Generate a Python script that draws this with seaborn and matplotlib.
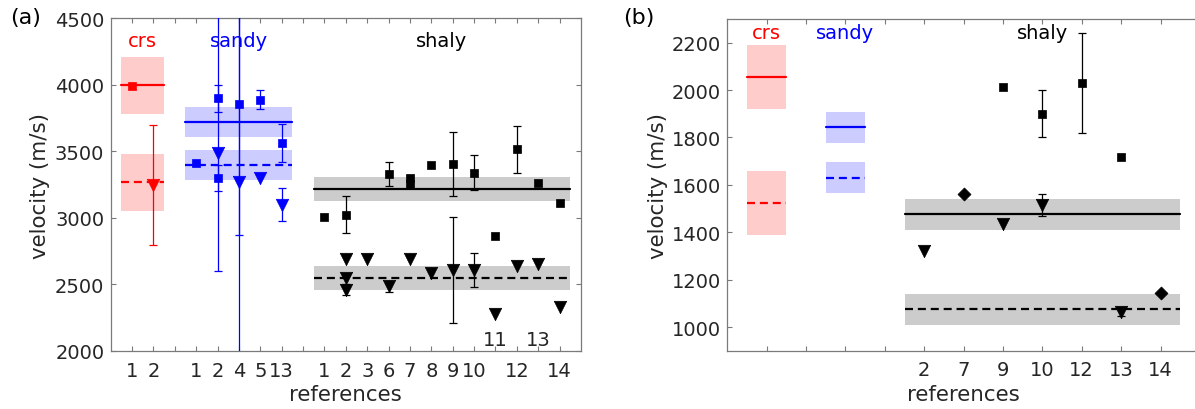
import numpy as np
import matplotlib
matplotlib.use("Agg")
import matplotlib.pyplot as plt
import seaborn as sns

# ------------------------------------------------------------------
# Panel (a) data
# ------------------------------------------------------------------
a_group_names = ["crs", "sandy", "shaly"]
a_refs_crs = ["1", "2"]
a_refs_sandy = ["1", "2", "4", "5", "13"]
a_refs_shaly = ["1", "2", "3", "6", "7", "8", "9", "10", "11", "12", "13", "14"]
a_raised_refs = ["11", "13"]          # shaly tick labels printed inside the axes

a_mean_solid = [4000, 3720, 3215]
a_band_solid_lo = [3785, 3610, 3125]
a_band_solid_hi = [4212, 3832, 3305]
a_mean_dashed = [3270, 3400, 2550]
a_band_dashed_lo = [3055, 3285, 2458]
a_band_dashed_hi = [3480, 3514, 2638]

# crs
a_crs_sq_ref = ["1"]
a_crs_sq_val = [3990]
a_crs_sq_elo = [0]
a_crs_sq_ehi = [0]
a_crs_tri_ref = ["2"]
a_crs_tri_val = [3250]
a_crs_tri_elo = [450]
a_crs_tri_ehi = [450]

# sandy
a_sandy_sq_ref = ["1", "2", "2", "4", "5", "13"]
a_sandy_sq_val = [3410, 3900, 3300, 3860, 3890, 3565]
a_sandy_sq_elo = [0, 100, 100, 990, 70, 145]
a_sandy_sq_ehi = [0, 100, 100, 990, 70, 145]
a_sandy_tri_ref = ["2", "4", "5", "13"]
a_sandy_tri_val = [3490, 3270, 3300, 3100]
a_sandy_tri_elo = [890, 1500, 0, 125]
a_sandy_tri_ehi = [1200, 1500, 0, 125]

# shaly
a_shaly_sq_ref = ["1", "2", "6", "7", "7", "8", "9", "10", "11", "12", "13", "14"]
a_shaly_sq_val = [3010, 3025, 3330, 3300, 3255, 3400, 3405, 3340, 2865, 3515, 3265, 3110]
a_shaly_sq_elo = [0, 140, 90, 0, 0, 0, 240, 130, 0, 175, 0, 0]
a_shaly_sq_ehi = [0, 140, 90, 0, 0, 0, 240, 130, 0, 175, 0, 0]
a_shaly_tri_ref = ["2", "2", "2", "3", "6", "7", "8", "9", "10", "11", "12", "13", "14"]
a_shaly_tri_val = [2690, 2545, 2460, 2695, 2486, 2695, 2590, 2610, 2610, 2275, 2640, 2655, 2330]
a_shaly_tri_elo = [0, 0, 40, 0, 40, 0, 0, 400, 130, 0, 0, 0, 0]
a_shaly_tri_ehi = [0, 0, 40, 0, 40, 0, 0, 400, 130, 0, 0, 0, 0]

# ------------------------------------------------------------------
# Panel (b) data
# ------------------------------------------------------------------
b_group_names = ["crs", "sandy", "shaly"]
b_refs_crs = [""]
b_refs_sandy = [""]
b_refs_shaly = ["2", "7", "9", "10", "12", "13", "14"]

b_mean_solid = [2055, 1844, 1477]
b_band_solid_lo = [1922, 1777, 1411]
b_band_solid_hi = [2189, 1908, 1542]
b_mean_dashed = [1525, 1630, 1074]
b_band_dashed_lo = [1390, 1565, 1008]
b_band_dashed_hi = [1659, 1695, 1140]

b_shaly_sq_ref = ["9", "10", "12", "13"]
b_shaly_sq_val = [2015, 1900, 2030, 1718]
b_shaly_sq_elo = [0, 100, 210, 0]
b_shaly_sq_ehi = [0, 100, 210, 0]
b_shaly_tri_ref = ["2", "9", "10", "13"]
b_shaly_tri_val = [1320, 1435, 1515, 1065]
b_shaly_tri_elo = [0, 0, 45, 20]
b_shaly_tri_ehi = [0, 0, 45, 20]
b_shaly_dia_ref = ["7", "14"]
b_shaly_dia_val = [1560, 1145]

# ------------------------------------------------------------------
# Styling
# ------------------------------------------------------------------
sns.set_theme(style="white")
plt.rcParams["font.family"] = ["DejaVu Sans"]
TXT = "#262626"
SPINE = "#7a7a7a"
group_colors = ["#ff0000", "#0000ff", "#000000"]
band_colors = ["#ffcccc", "#ccccff", "#cccccc"]
SQ_SIZE, TRI_SIZE, DIA_SIZE = 38, 80, 44

fig = plt.figure(figsize=(11.95, 4.10), dpi=100)
ax_a = fig.add_axes([0.0926, 0.1415, 0.3936, 0.8110])
ax_b = fig.add_axes([0.6086, 0.1422, 0.3955, 0.8090])


def layout(groups):
    """Give each reference a slot, one empty slot between groups."""
    slots, labels, ranges = [], [], []
    s = 1
    for gi, refs in enumerate(groups):
        start = s
        for r in refs:
            slots.append(s)
            labels.append(r)
            s += 1
        ranges.append((start, s - 1))
        if gi < len(groups) - 1:
            slots.append(s)
            labels.append("")
            s += 1
    return slots, labels, ranges, s


def slot_of(refs, rng, ref):
    return rng[0] + refs.index(ref)


def draw_points(ax, refs, rng, r_list, v_list, lo, hi, marker, size, color):
    xs = np.array([slot_of(refs, rng, r) for r in r_list], dtype=float)
    v = np.array(v_list, dtype=float)
    if lo is not None:
        lo = np.array(lo, dtype=float)
        hi = np.array(hi, dtype=float)
        m = (lo > 0) | (hi > 0)
        if m.any():
            ax.errorbar(xs[m], v[m], yerr=[lo[m], hi[m]], fmt="none",
                        ecolor=color, elinewidth=0.9, capsize=2.6,
                        capthick=0.9, zorder=3)
    sns.scatterplot(x=xs, y=v, marker=marker, s=size, color=color,
                    edgecolor=color, linewidth=0.5, ax=ax, zorder=4,
                    legend=False)


def draw_bands(ax, ranges, ms, bl, bh, md, dl, dh):
    for gi, (s0, s1) in enumerate(ranges):
        x0, x1 = s0 - 0.5, s1 + 0.5
        ax.fill_between([x0, x1], [bl[gi]] * 2, [bh[gi]] * 2,
                        color=band_colors[gi], lw=0, zorder=1)
        ax.fill_between([x0, x1], [dl[gi]] * 2, [dh[gi]] * 2,
                        color=band_colors[gi], lw=0, zorder=1)
        ax.plot([x0, x1], [ms[gi]] * 2, color=group_colors[gi], lw=1.6,
                zorder=2)
        ax.plot([x0, x1], [md[gi]] * 2, color=group_colors[gi], lw=1.6,
                ls=(0, (3.6, 2.2)), zorder=2)


def style_axes(ax, slots, labels, xmax):
    ax.set_xlim(0, xmax)
    ax.set_xticks(slots)
    ax.set_xticklabels(labels)
    for sp in ax.spines.values():
        sp.set_color(SPINE)
        sp.set_linewidth(0.9)
    ax.tick_params(axis="both", direction="in", length=3.5, width=0.8,
                   color=SPINE, labelcolor=TXT, labelsize=14,
                   top=True, right=True, bottom=True, left=True)
    ax.tick_params(axis="x", pad=7)
    ax.tick_params(axis="y", pad=4.6)
    ax.grid(False)
    ax.set_facecolor("white")


# ---------------- panel (a) ----------------
a_groups = [a_refs_crs, a_refs_sandy, a_refs_shaly]
a_slots, a_labels, a_ranges, a_end = layout(a_groups)
a_labels_shown = list(a_labels)
for r in a_raised_refs:
    a_labels_shown[a_slots.index(slot_of(a_refs_shaly, a_ranges[2], r))] = ""

draw_bands(ax_a, a_ranges, a_mean_solid, a_band_solid_lo, a_band_solid_hi,
           a_mean_dashed, a_band_dashed_lo, a_band_dashed_hi)

draw_points(ax_a, a_refs_crs, a_ranges[0], a_crs_sq_ref, a_crs_sq_val,
            a_crs_sq_elo, a_crs_sq_ehi, "s", SQ_SIZE, group_colors[0])
draw_points(ax_a, a_refs_crs, a_ranges[0], a_crs_tri_ref, a_crs_tri_val,
            a_crs_tri_elo, a_crs_tri_ehi, "v", TRI_SIZE, group_colors[0])
draw_points(ax_a, a_refs_sandy, a_ranges[1], a_sandy_sq_ref, a_sandy_sq_val,
            a_sandy_sq_elo, a_sandy_sq_ehi, "s", SQ_SIZE, group_colors[1])
draw_points(ax_a, a_refs_sandy, a_ranges[1], a_sandy_tri_ref, a_sandy_tri_val,
            a_sandy_tri_elo, a_sandy_tri_ehi, "v", TRI_SIZE, group_colors[1])
draw_points(ax_a, a_refs_shaly, a_ranges[2], a_shaly_sq_ref, a_shaly_sq_val,
            a_shaly_sq_elo, a_shaly_sq_ehi, "s", SQ_SIZE, group_colors[2])
draw_points(ax_a, a_refs_shaly, a_ranges[2], a_shaly_tri_ref, a_shaly_tri_val,
            a_shaly_tri_elo, a_shaly_tri_ehi, "v", TRI_SIZE, group_colors[2])

style_axes(ax_a, a_slots, a_labels_shown, a_end)
ax_a.set_ylim(2000, 4500)
ax_a.set_yticks(np.arange(2000, 4501, 500))

for r in a_raised_refs:
    ax_a.text(slot_of(a_refs_shaly, a_ranges[2], r), 2085, r, ha="center",
              va="center", fontsize=14, color=TXT)

for gi, name in enumerate(a_group_names):
    s0, s1 = a_ranges[gi]
    ax_a.text((s0 + s1) / 2, 4292, name, ha="center", va="baseline",
              fontsize=14, color=group_colors[gi])

# ---------------- panel (b) ----------------
b_groups = [b_refs_crs, b_refs_sandy, b_refs_shaly]
b_slots, b_labels, b_ranges, b_end = layout(b_groups)

draw_bands(ax_b, b_ranges, b_mean_solid, b_band_solid_lo, b_band_solid_hi,
           b_mean_dashed, b_band_dashed_lo, b_band_dashed_hi)
draw_points(ax_b, b_refs_shaly, b_ranges[2], b_shaly_sq_ref, b_shaly_sq_val,
            b_shaly_sq_elo, b_shaly_sq_ehi, "s", SQ_SIZE, group_colors[2])
draw_points(ax_b, b_refs_shaly, b_ranges[2], b_shaly_tri_ref, b_shaly_tri_val,
            b_shaly_tri_elo, b_shaly_tri_ehi, "v", TRI_SIZE, group_colors[2])
draw_points(ax_b, b_refs_shaly, b_ranges[2], b_shaly_dia_ref, b_shaly_dia_val,
            None, None, "D", DIA_SIZE, group_colors[2])

style_axes(ax_b, b_slots, b_labels, b_end)
ax_b.set_ylim(900, 2300)
ax_b.set_yticks(np.arange(1000, 2201, 200))

for gi, name in enumerate(b_group_names):
    s0, s1 = b_ranges[gi]
    ax_b.text((s0 + s1) / 2, 2219, name, ha="center", va="baseline",
              fontsize=14, color=group_colors[gi])

# ---------------- labels ----------------
for ax, xl in ((ax_a, -0.150), (ax_b, -0.1475)):
    ax.text(xl, 0.5, "velocity (m/s)", rotation=90, ha="center", va="center",
            fontsize=15.4, color=TXT, transform=ax.transAxes)
    ax.text(0.5, -0.148, "references", ha="center", va="baseline",
            fontsize=15.4, color=TXT, transform=ax.transAxes)

fig.text(26 / 1195, 1 - 18 / 410, "(a)", ha="center", va="center",
         fontsize=16, color="black")
fig.text(639 / 1195, 1 - 18 / 410, "(b)", ha="center", va="center",
         fontsize=16, color="black")

fig.savefig("out.png", dpi=100)
